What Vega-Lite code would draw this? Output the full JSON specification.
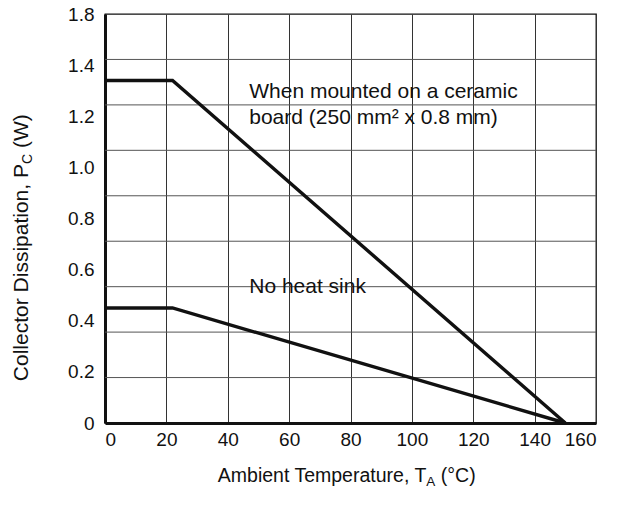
{
  "$schema": "https://vega.github.io/schema/vega-lite/v6.json",
  "width": 491,
  "height": 409,
  "autosize": "none",
  "padding": {"left": 105, "top": 14, "right": 30, "bottom": 83},
  "background": "white",
  "config": {
    "font": "Liberation Sans",
    "view": {"stroke": "#111", "strokeWidth": 1.3}
  },
  "datasets": {
    "curves": [
      {"series": "ceramic", "t": 0, "pc": 1.34},
      {"series": "ceramic", "t": 22, "pc": 1.34},
      {"series": "ceramic", "t": 150, "pc": 0},
      {"series": "none", "t": 0, "pc": 0.45},
      {"series": "none", "t": 22, "pc": 0.45},
      {"series": "none", "t": 150, "pc": 0}
    ],
    "gridY": [
      {"v": 0.1778}, {"v": 0.3556}, {"v": 0.5333}, {"v": 0.7111},
      {"v": 0.8889}, {"v": 1.0667}, {"v": 1.2444}, {"v": 1.4222}
    ],
    "notes": [
      {"t": 47, "pc": 1.272, "label": "When mounted on a ceramic"},
      {"t": 47, "pc": 1.17, "label": "board (250 mm² x 0.8 mm)"},
      {"t": 47, "pc": 0.51, "label": "No heat sink"}
    ],
    "xt1": [{"t": 104.7, "pc": -0.207, "label": "Ambient Temperature, T"}],
    "xt2": [{"t": 104.7, "pc": -0.207, "label": "A"}],
    "xt3": [{"t": 104.7, "pc": -0.207, "label": "(°C)"}],
    "yt1": [{"t": -27, "pc": 1.013, "label": "Collector Dissipation, P"}],
    "yt2": [{"t": -27, "pc": 1.013, "label": "C"}],
    "yt3": [{"t": -27, "pc": 1.013, "label": "(W)"}]
  },
  "encoding": {
    "x": {
      "field": "t", "type": "quantitative",
      "scale": {"domain": [0, 160], "nice": false, "zero": false},
      "axis": {"values": [0, 20, 40, 60, 80, 100, 120, 140, 160], "title": null, "ticks": false,
               "labelFont": "Liberation Sans", "labelFontSize": 19, "labelColor": "#111",
               "grid": true, "gridColor": "#333", "gridWidth": 1, "domainColor": "#111", "domainWidth": 3, "labelPadding": 7}
    },
    "y": {
      "field": "pc", "type": "quantitative",
      "scale": {"domain": [0, 1.6], "nice": false, "zero": false},
      "axis": {"values": [0, 0.2, 0.4, 0.6, 0.8, 1.0, 1.2, 1.4, 1.6], "title": null, "ticks": false,
               "labelFont": "Liberation Sans", "labelFontSize": 19, "labelColor": "#111",
               "grid": false, "domainColor": "#111", "domainWidth": 3, "labelPadding": 11,
               "labelExpr": "datum.value == 0 ? '0' : (datum.value > 1.55 ? '1.8' : format(datum.value, '.1f'))"}
    }
  },
  "layer": [
    {
      "data": {"name": "gridY"},
      "mark": {"type": "rule", "color": "#555", "strokeWidth": 1},
      "encoding": {"y": {"field": "v", "type": "quantitative"}, "x": null}
    },
    {
      "data": {"name": "curves"},
      "mark": {"type": "line", "color": "#111", "strokeWidth": 3.4},
      "encoding": {"detail": {"field": "series"}}
    },
    {
      "data": {"name": "notes"},
      "mark": {"type": "text", "align": "left", "baseline": "alphabetic", "fontSize": 21, "color": "#111"},
      "encoding": {"text": {"field": "label"}}
    },
    {
      "data": {"name": "xt1"},
      "mark": {"type": "text", "align": "right", "baseline": "middle", "fontSize": 19.5, "color": "#111", "clip": false},
      "encoding": {"text": {"field": "label"}}
    },
    {
      "data": {"name": "xt2"},
      "mark": {"type": "text", "align": "left", "baseline": "middle", "fontSize": 13.5, "dy": 6, "color": "#111", "clip": false},
      "encoding": {"text": {"field": "label"}}
    },
    {
      "data": {"name": "xt3"},
      "mark": {"type": "text", "align": "left", "baseline": "middle", "fontSize": 19.5, "dx": 14.5, "color": "#111", "clip": false},
      "encoding": {"text": {"field": "label"}}
    },
    {
      "data": {"name": "yt1"},
      "mark": {"type": "text", "align": "right", "baseline": "middle", "angle": 270, "fontSize": 21, "color": "#111", "clip": false},
      "encoding": {"text": {"field": "label"}}
    },
    {
      "data": {"name": "yt2"},
      "mark": {"type": "text", "align": "left", "baseline": "middle", "angle": 270, "fontSize": 14, "dy": 6, "color": "#111", "clip": false},
      "encoding": {"text": {"field": "label"}}
    },
    {
      "data": {"name": "yt3"},
      "mark": {"type": "text", "align": "left", "baseline": "middle", "angle": 270, "fontSize": 21, "dx": 16, "color": "#111", "clip": false},
      "encoding": {"text": {"field": "label"}}
    }
  ]
}
